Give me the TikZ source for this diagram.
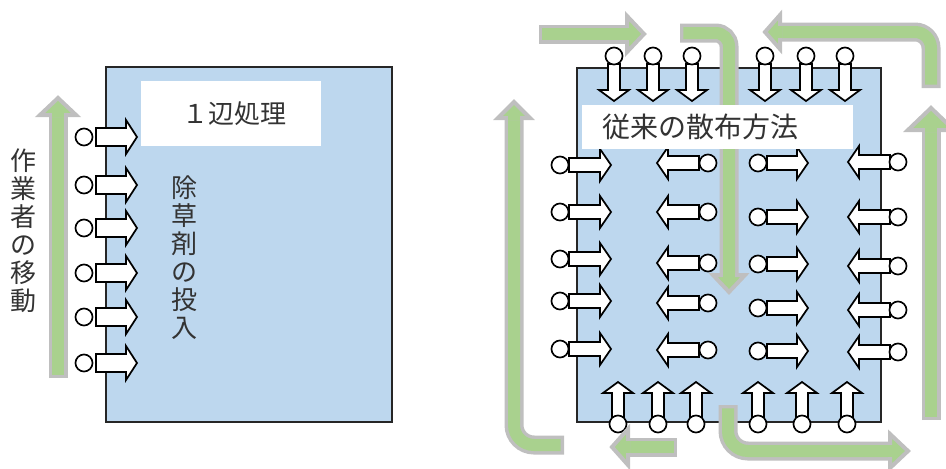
\documentclass[tikz,border=0pt]{standalone}
\usepackage{fontspec}
\newfontfamily\jpfont{Noto Sans CJK JP}
\usetikzlibrary{positioning}

\definecolor{fieldblue}{HTML}{BDD7EE}
\definecolor{flowgreen}{HTML}{A9D18E}
\definecolor{flowgray}{HTML}{BFBFBF}

\tikzset{
  pics/blk/.style n args={4}{code={
    \draw[blkline] (0,-#2) -- ({#1-#4},-#2) -- ({#1-#4},-#3) -- (#1,0)
                   -- ({#1-#4},#3) -- ({#1-#4},#2) -- (0,#2) -- cycle;}},
  pics/ghead/.style n args={2}{code={
    \filldraw[fill=flowgreen, draw=flowgray, line width=3pt, line join=miter]
      (0,-#1) -- (#2,0) -- (0,#1) -- cycle;
    \fill[flowgreen] (-2,-6) rectangle (3,6);}}
}

% gray rim first, green core on top
\newcommand{\flowshaft}[2]{%
  \draw[shell,#1] #2;
  \draw[core,#1] #2;}

\begin{document}
\begin{tikzpicture}[
  x=0.75pt, y=-0.75pt,
  field/.style   = {draw=black!85, line width=1.4pt, fill=fieldblue},
  tag/.style     = {fill=white, inner sep=0pt},
  jtext/.style   = {font=\jpfont\fontsize{19.5}{21}\selectfont,
                    text=black!80, align=center, inner sep=0pt},
  dot/.style     = {draw, line width=1.25pt, fill=white},
  blkline/.style = {draw, line width=1.3pt, fill=white, line join=miter},
  shell/.style   = {draw=flowgray, line width=14.25pt},
  core/.style    = {draw=flowgreen, line width=9pt, shorten <=2.6pt}
]
\clip (0,0) rectangle (946,468);

% ---- one side treatment
\draw[field] (106,67) rectangle (392,422);

\flowshaft{}{(58,378) -- (58,115)}
\pic[rotate=90] at (58,115) {ghead={18}{17}};

\foreach \y in {137,185,228,273,317,363} {
  \pic at (96,\y) {blk={41}{9}{17}{11}};
  \draw[dot] (84,\y) circle[radius=6.4pt];
}

\node[tag, minimum width=135pt, minimum height=48.75pt] (sidetag) at (231,113.5) {};
\node[jtext] (sidetext) at (234,114) {１辺処理};
\node[jtext] (workerlabel) at (24,231) {作\\業\\者\\の\\移\\動};
\node[jtext] (inputlabel) at (184,258) {除\\草\\剤\\の\\投\\入};

% ---- conventional spraying
\draw[field] (577,68) rectangle (881,422);

\foreach \x in {614,653,692,765,806,845} {
  \pic[rotate=-90] at (\x,64) {blk={37}{6}{15}{11}};
  \draw[dot] (\x,56) circle[radius=6.4pt];
}
\foreach \x in {618,658,696,758,802,847} {
  \pic[rotate=90] at (\x,417) {blk={35}{6}{15}{11}};
  \draw[dot] (\x,424) circle[radius=6.4pt];
}
\foreach \y in {165,212,259,301,349} {
  \pic at (569,\y) {blk={42}{7}{16}{11}};
  \draw[dot] (560,\y) circle[radius=6.4pt];
}
\foreach \y in {163,212,263,303,350} {
  \pic[rotate=180] at (699,\y) {blk={42}{7}{16}{11}};
  \draw[dot] (708,\y) circle[radius=6.4pt];
}
\foreach \y in {163,217,264,308,351} {
  \pic at (767,\y) {blk={41}{7}{16}{11}};
  \draw[dot] (758,\y) circle[radius=6.4pt];
}
\foreach \y in {162,217,266,310,352} {
  \pic[rotate=180] at (890,\y) {blk={42}{7}{16}{11}};
  \draw[dot] (898,\y) circle[radius=6.4pt];
}

% worker route
\flowshaft{}{(539,34) -- (627,34)}
\pic at (627,34) {ghead={18}{17}};
\flowshaft{rounded corners=10pt}{(680,33) -| (729,275)}
\pic[rotate=-90] at (729,275) {ghead={16}{17}};
\flowshaft{rounded corners=12pt}{(931,88) |- (780,32)}
\pic[rotate=180] at (780,32) {ghead={17}{15}};
\flowshaft{}{(931,420) -- (931,130)}
\pic[rotate=90] at (931,130) {ghead={23}{22}};
\flowshaft{rounded corners=15pt}{(564,445) -| (514,118)}
\pic[rotate=90] at (514,118) {ghead={16}{16}};
\flowshaft{}{(677,447) -- (628,447)}
\pic[rotate=180] at (628,447) {ghead={18}{16}};
\flowshaft{rounded corners=15pt}{(728,405) |- (890,451)}
\pic at (890,451) {ghead={17}{18}};

\node[tag, anchor=west, minimum height=33pt, text width=173.25pt,
      inner xsep=15pt, align=left, font=\jpfont\fontsize{21}{23}\selectfont,
      text=black!80] (oldtag) at (582,127) {従来の散布方法};
\end{tikzpicture}
\end{document}
